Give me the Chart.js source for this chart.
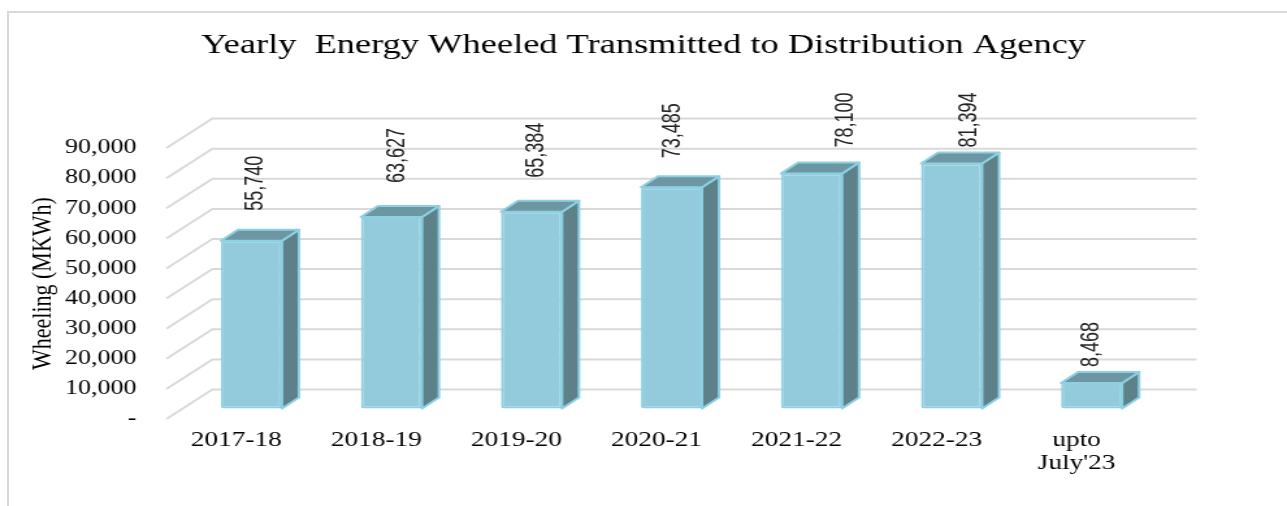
<!DOCTYPE html>
<html>
<head>
<meta charset="utf-8">
<title>Yearly Energy Wheeled</title>
<script src="https://cdn.jsdelivr.net/npm/chart.js@4.4.1/dist/chart.umd.min.js"></script>
<style>
  html, body { margin: 0; padding: 0; background: #fff; overflow: hidden; }
  /* thin grey frame of the original picture */
  #frame { position: absolute; left: 7px; top: 11px; width: 1300px; height: 520px;
           border-left: 2px solid #d9d9d9; border-top: 2px solid #d9d9d9; }
  /* the source image is stretched sideways, so the whole chart is drawn narrower and widened */
  #wrap { position: absolute; left: 0; top: 0; width: 990px; height: 506px;
          transform: scaleX(1.3); transform-origin: 0 0; }
</style>
</head>
<body>
<div id="frame"></div>
<div id="wrap"><canvas id="chart"></canvas></div>
<script>
const years = ['2017-18', '2018-19', '2019-20', '2020-21', '2021-22', '2022-23', ['upto', "July'23"]];
const wheeling = [55740, 63627, 65384, 73485, 78100, 81394, 8468];
const yTicks = [0, 10000, 20000, 30000, 40000, 50000, 60000, 70000, 80000, 90000];
const yTickLabels = ['-', '10,000', '20,000', '30,000', '40,000', '50,000', '60,000', '70,000', '80,000', '90,000'];
// data labels were hand-placed in the original: [dx, dy] from the bar's front top corner
const labelNudge = [[3.5, -30], [5.5, -34], [4.5, -34], [1.5, -29], [34.5, -26], [17.5, -16], [0, -16]];

const SX = 1.3;                            // horizontal stretch of the picture
const WALL = { dx: 46 / SX, dy: -29.5 };   // depth of the plot box
const FRONT = { dx: 15 / SX, dy: -10.5 };  // bars stand this far back
const DEPTH = { dx: 17 / SX, dy: -11 };    // thickness of a bar

const FACE = '#93cbdc', SIDE = '#5e8189', TOP = '#6c97a2', EDGE = '#8dd0e3', GRID = '#d9d9d9';

const fillPoly = (ctx, pts, color) => {
  ctx.beginPath();
  ctx.moveTo(pts[0][0], pts[0][1]);
  pts.slice(1).forEach(p => ctx.lineTo(p[0], p[1]));
  ctx.closePath();
  ctx.fillStyle = color;
  ctx.fill();
  ctx.stroke();
};

const box3d = {
  id: 'box3d',
  beforeDatasetsDraw(chart) {
    const { ctx, chartArea: a, scales: { y } } = chart;
    // back wall + side wall lines
    ctx.save();
    ctx.strokeStyle = GRID;
    ctx.lineWidth = 2;
    y.ticks.forEach(t => {
      const py = y.getPixelForValue(t.value);
      ctx.beginPath();
      ctx.moveTo(a.left, py);
      ctx.lineTo(a.left + WALL.dx, py + WALL.dy);
      ctx.lineTo(a.right + WALL.dx + 4 / SX, py + WALL.dy);
      ctx.stroke();
    });
    ctx.restore();
    // push the bars into the box
    ctx.save();
    ctx.translate(FRONT.dx, FRONT.dy);
  },
  afterDatasetsDraw(chart) {
    const { ctx } = chart;
    const bars = chart.getDatasetMeta(0).data;
    ctx.lineWidth = 2;
    ctx.lineJoin = 'round';
    ctx.strokeStyle = EDGE;
    bars.forEach(bar => {
      const { x, y, base, width } = bar.getProps(['x', 'y', 'base', 'width'], true);
      const l = x - width / 2, r = x + width / 2;
      fillPoly(ctx, [[r, y], [r + DEPTH.dx, y + DEPTH.dy], [r + DEPTH.dx, base + DEPTH.dy], [r, base]], SIDE);
      fillPoly(ctx, [[l, y], [l + DEPTH.dx, y + DEPTH.dy], [r + DEPTH.dx, y + DEPTH.dy], [r, y]], TOP);
    });
    ctx.restore();

    // value labels, vertical
    bars.forEach((bar, i) => {
      const { x, y } = bar.getProps(['x', 'y'], true);
      ctx.save();
      ctx.translate(x + FRONT.dx + labelNudge[i][0] / SX, y + FRONT.dy + labelNudge[i][1]);
      ctx.rotate(-Math.PI / 2);
      ctx.scale(0.9, 1);
      ctx.font = '20px "Liberation Sans"';
      ctx.fillStyle = '#222';
      ctx.textAlign = 'left';
      ctx.textBaseline = 'middle';
      ctx.fillText(wheeling[i].toLocaleString('en-US'), 0, 0);
      ctx.restore();
    });
  }
};

new Chart(document.getElementById('chart'), {
  type: 'bar',
  data: {
    labels: years,
    datasets: [{
      data: wheeling,
      backgroundColor: FACE,
      borderColor: EDGE,
      borderWidth: 2,
      borderSkipped: false,
      borderRadius: 2,
      categoryPercentage: 1,
      barPercentage: 0.436,
      clip: false
    }]
  },
  options: {
    responsive: true,
    maintainAspectRatio: false,
    animation: false,
    layout: { padding: 0 },
    plugins: {
      legend: { display: false },
      tooltip: { enabled: false },
      title: {
        display: true,
        text: 'Yearly  Energy Wheeled Transmitted to Distribution Agency',
        color: '#000',
        font: { family: 'Liberation Serif', size: 28, weight: 'normal' },
        padding: { top: 29, bottom: 85.5 }
      }
    },
    scales: {
      x: {
        grid: { display: false, drawTicks: false },
        border: { display: false },
        ticks: {
          color: '#000',
          font: { family: 'Liberation Serif', size: 21, lineHeight: 1.1 },
          padding: 10,
          autoSkip: false,
          maxRotation: 0
        },
        afterFit: s => { s.height = 87; }
      },
      y: {
        min: 0,
        max: 90000,
        grid: { display: false, drawTicks: false },
        border: { display: false },
        afterBuildTicks: s => { s.ticks = yTicks.map(v => ({ value: v })); },
        ticks: {
          color: '#000',
          font: { family: 'Liberation Serif', size: 20 },
          padding: 23,
          callback: (v, i) => yTickLabels[i]
        },
        title: {
          display: true,
          text: 'Wheeling (MKWh)',
          color: '#000',
          font: { family: 'Liberation Serif', size: 22 },
          padding: { top: 20, bottom: 0 }
        },
        afterFit: s => { s.width = 128; }
      },
      // empty strip on the right so the plot box ends where the original does
      spacer: {
        position: 'right',
        display: true,
        grid: { display: false, drawTicks: false },
        border: { display: false },
        ticks: { display: false },
        afterFit: s => { s.width = 108; }
      }
    }
  },
  plugins: [box3d]
});
</script>
</body>
</html>
